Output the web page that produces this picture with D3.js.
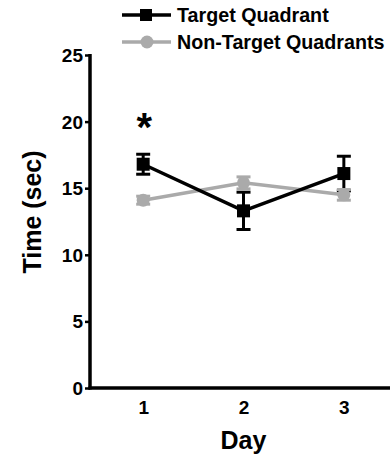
<!DOCTYPE html>
<html><head><meta charset="utf-8">
<script src="https://cdn.jsdelivr.net/npm/d3@7"></script>
<style>body{margin:0;background:#fff}svg{display:block}text{font-family:"Liberation Sans",Arial,sans-serif;font-weight:bold;fill:#000}</style>
</head><body><svg id="c" width="390" height="459"></svg>
<script>
const days = [1, 2, 3];
const targetMean = [16.8, 13.3, 16.1];
const targetErr = [0.75, 1.4, 1.3];
const nonTargetMean = [14.1, 15.4, 14.5];
const nonTargetErr = [0.3, 0.45, 0.4];
const yTicks = [0, 5, 10, 15, 20, 25];
const seriesNames = ["Target Quadrant", "Non-Target Quadrants"];

const svg = d3.select("#c");
const x = d3.scaleLinear().domain([0.47, 3.46]).range([90, 390]);
const y = d3.scaleLinear().domain([0, 25]).range([388, 55]);
const black = "#000", gray = "#aaaaaa";

// y axis
const ya = svg.append("g").attr("transform", "translate(90,0)")
  .call(d3.axisLeft(y).tickValues(yTicks).tickSize(5).tickSizeOuter(0).tickPadding(2));
ya.select(".domain").attr("stroke-width", 3.5).attr("d", `M0,${y(25)-1}V${y(0)+1.5}`);
ya.selectAll(".tick line").attr("stroke-width", 2.5);
ya.selectAll(".tick text").style("font-size", "19px").attr("dy", "0.34em");
// x axis
const xa = svg.append("g").attr("transform", `translate(0,${y(0)})`)
  .call(d3.axisBottom(x).tickValues(days).tickSize(0).tickPadding(13).tickFormat(d3.format("d")));
xa.select(".domain").attr("stroke-width", 3.5).attr("d", "M88.5,0H390");
xa.selectAll(".tick text").style("font-size", "19px");

svg.append("text").attr("transform", "translate(41,212) rotate(-90)").attr("text-anchor", "middle")
  .style("font-size", "25px").text("Time (sec)");
svg.append("text").attr("x", x(2)).attr("y", 449).attr("text-anchor", "middle")
  .style("font-size", "25px").text("Day");
svg.append("text").attr("x", x(1) + 1).attr("y", 141).attr("text-anchor", "middle")
  .style("font-size", "40px").text("*");

function errbars(g, means, errs, color) {
  days.forEach((d, i) => {
    const cx = x(d), t = y(means[i] + errs[i]), b = y(means[i] - errs[i]);
    g.append("line").attr("x1", cx).attr("x2", cx).attr("y1", t).attr("y2", b).attr("stroke", color).attr("stroke-width", 3);
    [t, b].forEach(yy => g.append("line").attr("x1", cx - 7).attr("x2", cx + 7).attr("y1", yy).attr("y2", yy).attr("stroke", color).attr("stroke-width", 3));
  });
}
const line = d3.line().x((d, i) => x(days[i])).y(d => y(d));

const gB = svg.append("g");
errbars(gB, targetMean, targetErr, black);
const gG = svg.append("g");
gG.append("path").attr("d", line(nonTargetMean)).attr("fill", "none").attr("stroke", gray).attr("stroke-width", 3.5);
errbars(gG, nonTargetMean, nonTargetErr, gray);
nonTargetMean.forEach((v, i) => gG.append("circle").attr("cx", x(days[i])).attr("cy", y(v)).attr("r", 6.5).attr("fill", gray));
const gB2 = svg.append("g");
gB2.append("path").attr("d", line(targetMean)).attr("fill", "none").attr("stroke", black).attr("stroke-width", 3.5);
targetMean.forEach((v, i) => gB2.append("rect").attr("x", x(days[i]) - 6.5).attr("y", y(v) - 6.5).attr("width", 13).attr("height", 13).attr("fill", black));

// legend
const lg = svg.append("g");
[[black, 15], [gray, 42]].forEach(([c, ly], i) => {
  lg.append("line").attr("x1", 122).attr("x2", 171).attr("y1", ly).attr("y2", ly).attr("stroke", c).attr("stroke-width", 3.5);
  if (i === 0) lg.append("rect").attr("x", 140).attr("y", ly - 6).attr("width", 12).attr("height", 12).attr("fill", c);
  else lg.append("circle").attr("cx", 147).attr("cy", ly).attr("r", 6.5).attr("fill", c);
  lg.append("text").attr("x", 177).attr("y", ly).attr("dy", "0.36em").style("font-size", "19.7px").text(seriesNames[i]);
});
</script></body></html>
